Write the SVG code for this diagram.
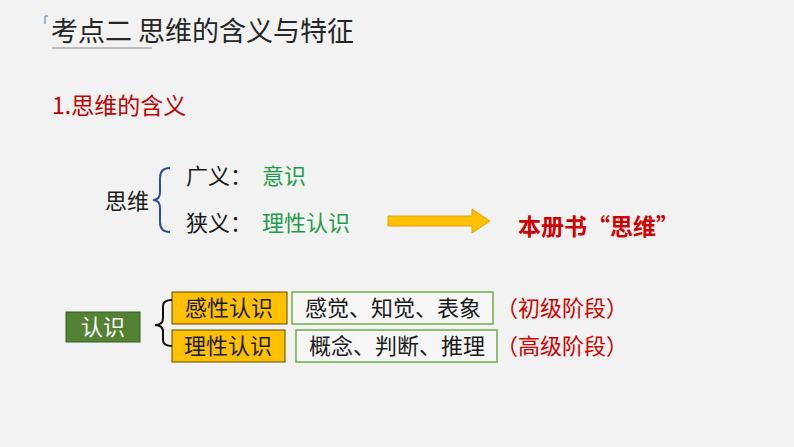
<svg xmlns="http://www.w3.org/2000/svg" width="794" height="447" viewBox="0 0 794 447">
<style>
text{font-family:"Noto Sans CJK SC","Liberation Sans",sans-serif;font-size:22px;fill:#1a1a1a}
.g{fill:#1e9e4a}.r{fill:#d00000}
.yb{fill:#ffc000;stroke:#5a4a00;stroke-width:1}
.wb{fill:#f6f6f6;stroke:#70ad47;stroke-width:1.5}
</style>
<rect width="794" height="447" fill="#f2f2f2"/>
<g id="title">
<path d="M45,24 L45,16 L48,16" fill="none" stroke="#4a6fb5" stroke-width="1"/>
<text x="51" y="41" style="font-size:27px;fill:#262626">考点二 思维的含义与特征</text>
<line x1="52" y1="48" x2="152" y2="48" stroke="#888" stroke-width="1"/>
</g>
<g id="sub"><text x="52" y="114" style="fill:#c00000;font-size:23px">1.思维的含义</text></g>
<g id="siwei"><text x="105" y="209">思维</text></g>
<g id="guangyi"><text x="186" y="184">广义：</text><text x="262" y="184" class="g">意识</text></g>
<g id="xiayi"><text x="186" y="231">狭义：</text><text x="262" y="231" class="g">理性认识</text></g>
<g id="benceshu"><text x="518" y="235" class="r" style="font-weight:bold;font-size:23px">本册书“思维”</text></g>
<g id="renshi"><rect x="66" y="312" width="74" height="30" fill="#548235" stroke="#3a5a25"/><text x="103" y="335" text-anchor="middle" style="fill:#fff">认识</text></g>
<g id="ganxing"><rect x="172" y="292" width="115" height="32" class="yb"/><text x="229" y="316" text-anchor="middle">感性认识</text></g>
<g id="lixing"><rect x="172" y="330" width="113" height="32" class="yb"/><text x="228" y="354" text-anchor="middle">理性认识</text></g>
<g id="ganjue"><rect x="292" y="292" width="201" height="32" class="wb"/><text x="393" y="316" text-anchor="middle">感觉、知觉、表象</text></g>
<g id="gainian"><rect x="296" y="330" width="201" height="32" class="wb"/><text x="397" y="354" text-anchor="middle">概念、判断、推理</text></g>
<g id="chuji"><text x="496" y="316" class="r">（初级阶段）</text></g>
<g id="gaoji"><text x="496" y="354" class="r">（高级阶段）</text></g>
<g id="connectors" fill="none">
<path d="M170,168 Q160,168 160,178 L160,192 Q160,200 153,200 Q160,200 160,208 L160,222 Q160,232 170,232" stroke="#2f4f8f" stroke-width="2"/>
<path d="M172,300 Q163,300 163,306 L163,318 Q163,325 155,325 Q163,325 163,332 L163,340 Q163,346 172,346" stroke="#111" stroke-width="2"/>
<path d="M388,216 L472,216 L472,209 L490,221 L472,233 L472,226 L388,226 Z" fill="#ffc000" stroke="#e6a000" stroke-width="1"/>
</g>
</svg>
